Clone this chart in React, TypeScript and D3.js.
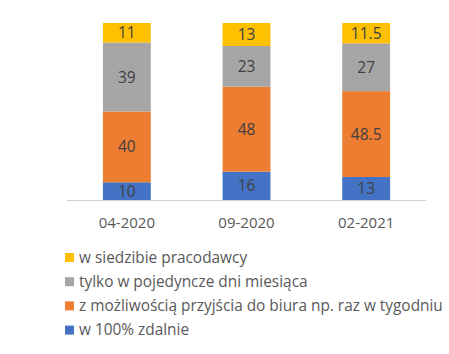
import React from "react";
import * as d3 from "d3";

const categories = ["04-2020", "09-2020", "02-2021"];
const seriesNames = [
  "w 100% zdalnie",
  "z możliwością przyjścia do biura np. raz w tygodniu",
  "tylko w pojedyncze dni miesiąca",
  "w siedzibie pracodawcy",
];
const remote100 = [10, 16, 13];
const weekly = [40, 48, 48.5];
const fewDays = [39, 23, 27];
const office = [11, 13, 11.5];

const colors = ["#4472C4", "#ED7D31", "url(#grayDots)", "#FFC000"];
const font = "'Open Sans', sans-serif";

export default function App() {
  const width = 449;
  const height = 354;

  const rows = categories.map((c, i) => ({
    cat: c,
    s0: remote100[i],
    s1: weekly[i],
    s2: fewDays[i],
    s3: office[i],
  }));
  const keys = ["s0", "s1", "s2", "s3"];
  const stacked = d3.stack<any>().keys(keys)(rows);

  const x = d3
    .scaleBand()
    .domain(categories)
    .range([67, 426])
    .paddingInner(0.6)
    .paddingOuter(0.3);
  const y = d3.scaleLinear().domain([0, 100]).range([200, 23]);

  // legend lists the top series first
  const legendOrder = [3, 2, 1, 0];

  return (
    <svg
      width={width}
      height={height}
      style={{ position: "absolute", left: 0, top: 0, background: "#fff" }}
    >
      <defs>
        {/* fine dithered gray, like the textured fill in the source */}
        <pattern id="grayDots" width="2" height="2" patternUnits="userSpaceOnUse">
          <rect width="2" height="2" fill="#AEAEAE" />
          <rect x="0" y="0" width="1" height="1" fill="#9A9A9A" />
          <rect x="1" y="1" width="1" height="1" fill="#A0A0A0" />
        </pattern>
      </defs>

      {stacked.map((layer, li) => (
        <g key={li}>
          {layer.map((d, i) => {
            const x0 = x(categories[i]) as number;
            const top = y(d[1]);
            const bottom = y(d[0]);
            const val = d[1] - d[0];
            return (
              <g key={i}>
                <rect
                  x={x0}
                  y={top}
                  width={x.bandwidth()}
                  height={bottom - top}
                  fill={colors[li]}
                />
                <text
                  x={x0 + x.bandwidth() / 2}
                  y={(top + bottom) / 2}
                  dy="0.36em"
                  textAnchor="middle"
                  fontFamily={font}
                  fontSize={15.5}
                  fill="#404040"
                >
                  {String(val)}
                </text>
              </g>
            );
          })}
        </g>
      ))}

      <line x1={67} x2={426} y1={200.5} y2={200.5} stroke="#D0D0D0" strokeWidth={1} />

      {categories.map((c) => (
        <text
          key={c}
          x={(x(c) as number) + x.bandwidth() / 2}
          y={228}
          textAnchor="middle"
          fontFamily={font}
          fontSize={15}
          fill="#595959"
        >
          {c}
        </text>
      ))}

      {legendOrder.map((si, k) => {
        const cy = 257.5 + k * 24.2;
        return (
          <g key={si}>
            <rect x={65} y={cy - 4.5} width={9} height={9} fill={colors[si]} />
            <text
              x={79}
              y={cy}
              dy="0.35em"
              fontFamily={font}
              fontSize={15.4}
              fill="#595959"
            >
              {seriesNames[si]}
            </text>
          </g>
        );
      })}
    </svg>
  );
}
